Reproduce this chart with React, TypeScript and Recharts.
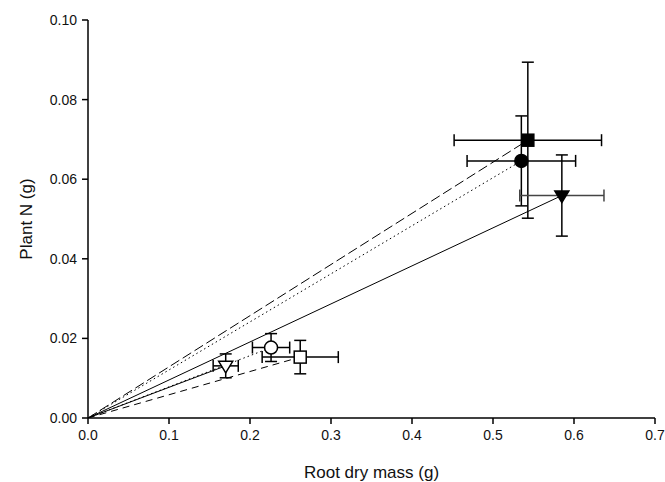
import React from 'react';
import { ScatterChart, Scatter, XAxis, YAxis, ErrorBar } from 'recharts';

// Treatment points: root dry mass (g), plant N (g), with SE bars
const pointNames = ['filledSquare', 'filledCircle', 'filledTriangle', 'openTriangle', 'openCircle', 'openSquare'];
const rootMass = [0.543, 0.535, 0.585, 0.170, 0.226, 0.262];
const plantN = [0.0698, 0.0646, 0.0559, 0.0131, 0.0177, 0.0153];
const rootMassErr = [0.091, 0.067, 0.052, 0.0155, 0.023, 0.047];
const plantNErr = [0.0196, 0.0113, 0.0102, 0.003, 0.0035, 0.0042];
const lineDash = ['10 4', '1.5 3', '', '', '1.5 3', '7 5'];

const xTicks = [0, 0.1, 0.2, 0.3, 0.4, 0.5, 0.6, 0.7];
const yTicks = [0, 0.02, 0.04, 0.06, 0.08, 0.1];

const FONT = 'Liberation Sans, Arial, sans-serif';

const makeShape = (name: string) => (props: any) => {
  const { cx, cy } = props;
  if (cx == null || cy == null) return <g />;
  const filled = name.startsWith('filled');
  const fill = filled ? '#000' : '#fff';
  const sw = 1.5;
  if (name.endsWith('Square')) {
    return <rect x={cx - 6} y={cy - 6} width={12} height={12} fill={fill} stroke="#000" strokeWidth={sw} />;
  }
  if (name.endsWith('Circle')) {
    return <circle cx={cx} cy={cy} r={6.5} fill={fill} stroke="#000" strokeWidth={sw} />;
  }
  return (
    <polygon
      points={`${cx - 7},${cy - 4.5} ${cx + 7},${cy - 4.5} ${cx},${cy + 7}`}
      fill={fill}
      stroke="#000"
      strokeWidth={sw}
      strokeLinejoin="miter"
    />
  );
};

const noShape = () => <g />;

export default function App() {
  const points = pointNames.map((n, i) => ({
    name: n,
    data: [{ x: rootMass[i], y: plantN[i], ex: rootMassErr[i], ey: plantNErr[i] }],
    line: [{ x: 0, y: 0 }, { x: rootMass[i], y: plantN[i] }],
  }));
  return (
    <div style={{ position: 'absolute', left: 0, top: 0 }}>
      <ScatterChart width={665} height={482} margin={{ top: 20, right: 10, bottom: 0, left: 0 }}>
        <XAxis
          type="number"
          dataKey="x"
          domain={[0, 0.7]}
          ticks={xTicks}
          tickFormatter={(v: number) => v.toFixed(1)}
          height={64}
          axisLine={{ stroke: '#000', strokeWidth: 1.5 }}
          tickLine={{ stroke: '#000', strokeWidth: 1.5 }}
          tickSize={6}
          tickMargin={6}
          tick={{ fill: '#111', fontSize: 14, fontFamily: FONT }}
          allowDataOverflow
          label={{ value: 'Root dry mass (g)', position: 'insideBottom', offset: 4, style: { fill: '#111', fontSize: 17, fontFamily: FONT } }}
        />
        <YAxis
          type="number"
          dataKey="y"
          domain={[0, 0.1]}
          ticks={yTicks}
          tickFormatter={(v: number) => v.toFixed(2)}
          width={88}
          axisLine={{ stroke: '#000', strokeWidth: 1.5 }}
          tickLine={{ stroke: '#000', strokeWidth: 1.5 }}
          tickSize={6}
          tickMargin={5}
          tick={{ fill: '#111', fontSize: 14, fontFamily: FONT }}
          allowDataOverflow
          label={{ value: 'Plant N (g)', angle: -90, position: 'insideLeft', offset: 26, style: { textAnchor: 'middle', fill: '#111', fontSize: 17, fontFamily: FONT } }}
        />
        {points.map((p, i) => (
          <Scatter
            key={'line-' + p.name}
            data={p.line}
            line={{ stroke: '#000', strokeWidth: 1, strokeDasharray: lineDash[i] || undefined }}
            lineType="joint"
            shape={noShape}
            isAnimationActive={false}
          />
        ))}
        {points.map((p, i) => (
          <Scatter key={p.name} data={p.data} shape={makeShape(p.name)} isAnimationActive={false}>
            <ErrorBar dataKey="ex" direction="x" width={6} stroke={i === 2 ? '#444' : '#000'} strokeWidth={1.5} isAnimationActive={false} />
            <ErrorBar dataKey="ey" direction="y" width={6} stroke="#000" strokeWidth={1.5} isAnimationActive={false} />
          </Scatter>
        ))}
      </ScatterChart>
    </div>
  );
}
